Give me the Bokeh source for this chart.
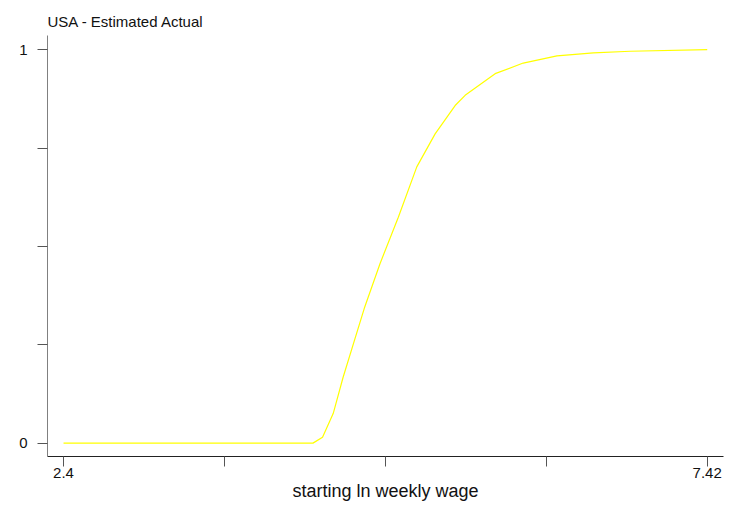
from bokeh.plotting import figure
from bokeh.models import FixedTicker, Range1d
from bokeh.embed import file_html
from bokeh.resources import INLINE

# data
title_text = "USA - Estimated Actual"
wage = [2.40, 4.345, 4.420, 4.503, 4.581, 4.745, 4.868, 5.011, 5.155, 5.298,
        5.454, 5.532, 5.766, 5.985, 6.248, 6.532, 6.820, 7.42]
share = [0.0, 0.0, 0.015, 0.075, 0.168, 0.342, 0.456, 0.574, 0.702, 0.786,
         0.858, 0.884, 0.939, 0.966, 0.984, 0.992, 0.996, 1.0]
x_ticks = [2.4, 3.655, 4.91, 6.165, 7.42]
x_tick_labels = {2.4: "2.4", 3.655: "", 4.91: "", 6.165: "", 7.42: "7.42"}
y_ticks = [0, 0.25, 0.5, 0.75, 1]
y_tick_labels = {0: "0", 0.25: "", 0.5: "", 0.75: "", 1: "1"}

FONT = "Liberation Sans"

p = figure(frame_width=676, frame_height=421, output_backend="svg",
           toolbar_location=None, title=title_text,
           x_range=Range1d(2.275, 7.547), y_range=Range1d(-0.034, 1.036),
           min_border_left=47, min_border_right=2, min_border_top=35,
           min_border_bottom=40)
p.line(wage, share, line_color="#ffff00", line_width=1.2)

p.title.text_font = FONT
p.title.text_font_size = "15px"
p.title.text_font_style = "normal"
p.title.text_color = "#111111"
p.title.standoff = 8
p.title.vertical_align = "top"

p.grid.visible = False
p.outline_line_color = None

p.xaxis.ticker = FixedTicker(ticks=x_ticks)
p.xaxis.major_label_overrides = x_tick_labels
p.yaxis.ticker = FixedTicker(ticks=y_ticks)
p.yaxis.major_label_overrides = y_tick_labels
p.yaxis.major_label_orientation = "horizontal"

for ax in (p.xaxis, p.yaxis):
    ax.minor_tick_line_color = None
    ax.major_tick_in = 0
    ax.major_tick_out = 10
    ax.major_label_text_font = FONT
    ax.major_label_text_font_size = "15px"
    ax.major_label_text_color = "#111111"
    ax.axis_label_text_font = FONT
    ax.axis_label_text_font_style = "normal"
    ax.axis_label_text_font_size = "18px"
    ax.axis_label_text_color = "#111111"

p.xaxis.axis_line_color = "#222222"
p.xaxis.major_tick_line_color = "#555555"
p.yaxis.axis_line_color = "#808080"
p.yaxis.major_tick_line_color = "#555555"
p.xaxis.axis_label = "starting ln weekly wage"
p.xaxis.major_label_standoff = 1
p.xaxis.axis_label_standoff = 0
p.yaxis.major_label_standoff = 10

open("out.html", "w").write(file_html(p, INLINE))
